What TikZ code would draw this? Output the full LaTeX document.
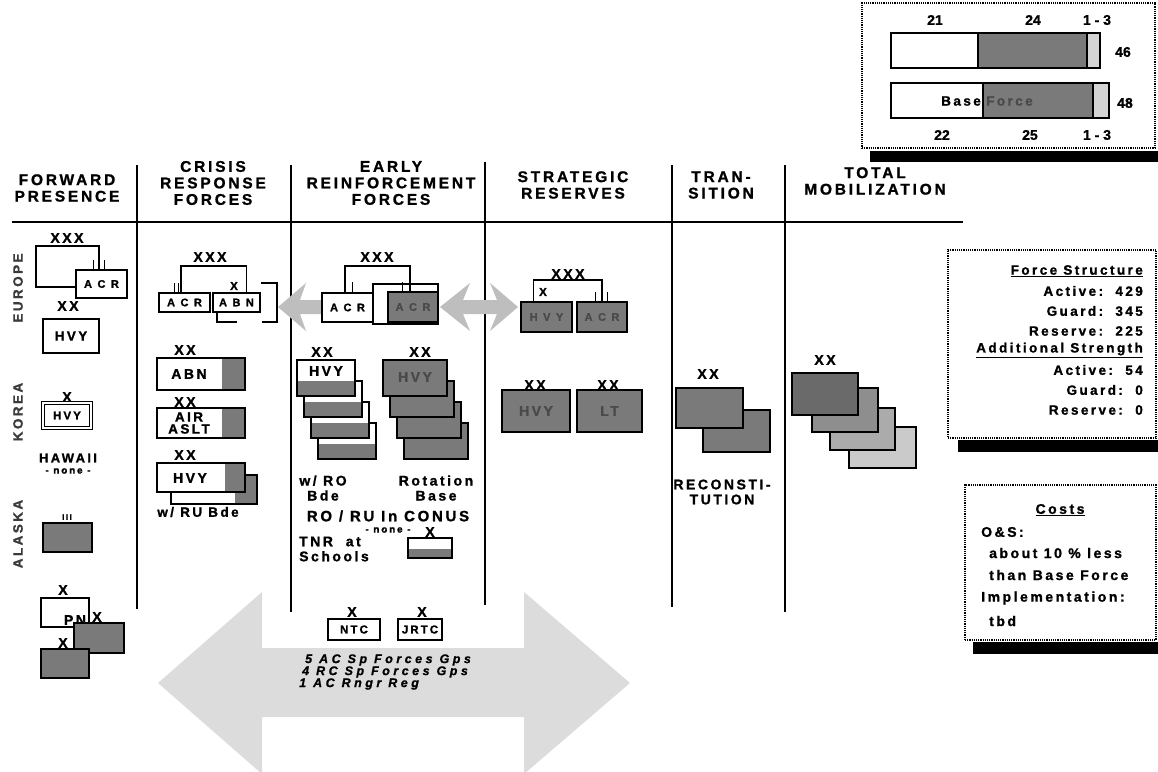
\documentclass[tikz,border=0pt]{standalone}
\usepackage{fontspec}
\setmainfont{Liberation Sans}[LetterSpace=18,BoldFeatures={FakeBold=1.2}]
\newfontfamily\wideF{Liberation Sans}[LetterSpace=50,BoldFeatures={FakeBold=1.2}]
\newfontfamily\itF{Liberation Sans}[LetterSpace=28,BoldItalicFeatures={FakeBold=1}]
\newfontfamily\plainF{Liberation Sans}[BoldFeatures={FakeBold=1.2}]
\usetikzlibrary{calc}
\definecolor{dk}{HTML}{7A7A7A}
\definecolor{dktxt}{HTML}{4A4A4A}
\definecolor{arrg}{HTML}{BEBEBE}
\definecolor{bigg}{HTML}{DCDCDC}
\definecolor{lite}{HTML}{D4D4D4}
\definecolor{gA}{HTML}{6A6A6A}
\definecolor{gB}{HTML}{8E8E8E}
\definecolor{gC}{HTML}{ABABAB}
\definecolor{gD}{HTML}{CACACA}
\definecolor{rowc}{HTML}{3A3A3A}
\newcommand\FntH{\fontsize{15.5}{16.5}\selectfont\bfseries}
\newcommand\FntL{\fontsize{14}{15}\selectfont\bfseries}
\newcommand\FntM{\fontsize{13.5}{13.5}\selectfont\bfseries}
\newcommand\FntS{\wideF\fontsize{11}{11}\selectfont\bfseries}
\newcommand\FntN{\fontsize{11.5}{12}\selectfont\bfseries}
\newcommand\FntT{\fontsize{10}{10}\selectfont\bfseries}
\newcommand\FntI{\itF\fontsize{12.5}{12.5}\selectfont\bfseries\itshape}
\newcommand\FntB{\fontsize{13.5}{15}\selectfont\bfseries}
\newcommand\FntC{\fontsize{14}{15}\selectfont\bfseries}
\newcommand\FntP{\plainF\fontsize{14}{15}\selectfont\bfseries}
\begin{document}
\begin{tikzpicture}[x=1pt,y=-1pt,
  sz/.style 2 args={minimum width=#1,minimum height=#2},
  wbox/.style={draw,line width=1.8pt,fill=white,inner sep=0},
  dbox/.style={draw,line width=1.8pt,fill=dk,inner sep=0,text=dktxt},
  rstrip/.style={path picture={\fill[dk] ([xshift=-#1]path picture bounding box.north east) rectangle (path picture bounding box.south east);}},
  lowdark/.style={path picture={\fill[dk] ($(path picture bounding box.south west)!#1!(path picture bounding box.north west)$) rectangle (path picture bounding box.south east);}},
  lbl/.style={font=\FntL,inner sep=0},
  txt/.style={inner sep=0},
  hdr/.style={font=\FntH,align=center,inner sep=0},
  conn/.style={line width=1.6pt},
  tickln/.style={line width=1pt},
  seprule/.style={line width=2pt},
  rowl/.style={font=\fontsize{13.5}{14}\selectfont\bfseries,rotate=90,text=rowc,inner sep=0},
  dotbox/.style={draw,densely dotted,line width=1.2pt,fill=white,inner sep=0},
  shadowbar/.style={fill=black},
  fatarrow/.style={fill=arrg},
]
\useasboundingbox (0,0) rectangle (1158,771);

% big background arrow
\fill[bigg] (158,683) -- (262,592) -- (262,648) -- (524,648) -- (524,592) -- (630,683) -- (524,774) -- (524,717) -- (262,717) -- (262,774) -- cycle;

% headers
\node[hdr] (h1) at (67,188) {FORWARD\\PRESENCE};
\node[hdr] (h2) at (213,183) {CRISIS\\RESPONSE\\FORCES};
\node[hdr] (h3) at (391,183) {EARLY\\REINFORCEMENT\\FORCES};
\node[hdr] (h4) at (573,185) {STRATEGIC\\RESERVES};
\node[hdr] (h5) at (721,185) {TRAN-\\SITION};
\node[hdr] (h6) at (875,181) {TOTAL\\MOBILIZATION};
\draw[seprule] (12,222) -- (963,222);
\draw[seprule] (137,165) -- (137,609);
\draw[seprule] (291,165) -- (291,612);
\draw[seprule] (485,162) -- (485,605);
\draw[seprule] (672,165) -- (672,607);
\draw[seprule] (785,165) -- (785,612);

% row labels
\node[rowl] (eu) at (18,288) {EUROPE};
\node[rowl] (ko) at (18,412) {KOREA};
\node[rowl] (ak) at (18,534) {ALASKA};
\node[txt,font=\fontsize{13}{14}\selectfont\bfseries] (hi) at (68,458) {HAWAII};
\node[txt,font=\FntT] (hin) at (68,471) {- none -};

% ---- Forward presence
\node[lbl] (fpx3) at (67,238) {XXX};
\node[wbox,sz={63}{41}] (fpxxx) at (67.5,266.5) {};
\draw[tickln] (93,260) -- (93,270) (104,260) -- (104,270);
\node[wbox,sz={51}{28},font=\FntS] (fpacr) at (101.5,284) {ACR};
\node[lbl] (fpx2) at (68,306) {XX};
\node[wbox,sz={56}{34},font=\FntM] (fphvy) at (71,336) {HVY};
\node[lbl] (krx) at (67,397) {X};
\node[wbox,sz={48}{25},font=\FntN,double=white,double distance=1.5pt,line width=1pt] (krhvy) at (67,415.5) {HVY};
\node[txt,font=\fontsize{8}{9}\selectfont\bfseries] (akiii) at (67,517) {III};
\node[dbox,sz={49}{29}] (akb) at (67.5,537.5) {};
\node[lbl] (pnx) at (63,590) {X};
\node[wbox,sz={48}{29}] (pnb) at (65,612.5) {};
\node[lbl] (pnt) at (75,620) {PN};
\node[lbl] (d2x) at (97,617) {X};
\node[dbox,sz={50}{30}] (d2b) at (99,638) {};
\node[lbl] (d3x) at (63,643) {X};
\node[dbox,sz={48}{29}] (d3b) at (65,663.5) {};

% ---- Crisis response
\node[lbl] (cx3) at (210,257) {XXX};
\draw[conn] (217,312) -- (217,322) -- (237,322);
\draw[conn] (261,283) -- (277,283) -- (277,322) -- (262,322);
\node[wbox,sz={51}{19},font=\FntS] (cacr) at (184.5,302.5) {ACR};
\node[wbox,sz={47}{19},font=\FntS] (cabn) at (236.5,302.5) {ABN};
\draw[conn] ([xshift=-3.5pt]cacr.north) -- ++(0,-26) -| ([xshift=10pt]cabn.north);
\draw[tickln] (174,283) -- (174,293) (178,283) -- (178,293);
\node[txt,font=\FntN] (cxs) at (234,286) {X};
\fill[fatarrow] (278,307) -- (306,283) -- (300,300) -- (322,300) -- (322,314) -- (300,314) -- (306,331) -- cycle;

\node[lbl] (cx2a) at (185,350) {XX};
\node[wbox,sz={88}{32},rstrip=23pt] (cabn2) at (201,374) {};
\node[lbl] (cabn2t) at (189,374) {ABN};
\node[lbl] (cx2b) at (185,402) {XX};
\node[wbox,sz={88}{30},rstrip=23pt] (cair) at (201,423) {};
\node[txt,font=\FntM,align=center] (cairt) at (189,423) {AIR\\[-1.5pt]ASLT};
\node[lbl] (cx2c) at (185,455) {XX};
\node[wbox,sz={86}{29},rstrip=22pt] (chvyb) at (214,489.5) {};
\node[wbox,sz={88}{29},rstrip=20pt] (chvy) at (201,477.5) {};
\node[lbl] (chvyt) at (190,478) {HVY};
\node[txt,font=\FntM] (cru) at (198,512) {w/ RU Bde};

% ---- Early reinforcement
\node[lbl] (ex3) at (377,257) {XXX};
\node[wbox,sz={65}{40}] (eback) at (405.5,304) {};
\node[dbox,sz={50}{30},font=\FntS] (eacrd) at (413,307) {ACR};
\fill[fatarrow] (440,307) -- (470,283) -- (463,300) -- (497,300) -- (490,283) -- (518,307) -- (490,331) -- (497,314) -- (463,314) -- (470,331) -- cycle;
\node[wbox,sz={51}{29},font=\FntS] (eacr) at (347.5,307.5) {ACR};
\draw[conn] ([xshift=-2.5pt]eacr.north) -- ++(0,-26) -| ([xshift=-3pt]eacrd.north);
\draw[tickln] (352,282) -- (352,293) (402,282) -- (402,292);

\node[lbl] (ex2a) at (322,352) {XX};
\foreach \i in {3,2,1,0} {
  \node[wbox,sz={58}{36},lowdark=0.42] (ro\i) at ({326+7*\i},{378+21*\i}) {};
}
\node[lbl] (rot) at (326,371) {HVY};
\node[lbl] (ex2b) at (420,352) {XX};
\foreach \i in {3,2,1,0} {
  \node[dbox,sz={64}{36}] (rb\i) at ({415+7*\i},{378+21*\i}) {};
}
\node[lbl,text=dktxt] (rbt) at (415,377) {HVY};
\node[txt,font=\FntL,align=center] (rolbl) at (323,488) {w/ RO\\Bde};
\node[txt,font=\FntL,align=center] (rblbl) at (436,488) {Rotation\\Base};
\node[txt,font=\fontsize{15}{15}\selectfont\bfseries] (conus) at (388,516) {RO / RU In CONUS};
\node[txt,font=\FntT] (conusn) at (388,530) {- none -};
\node[txt,font=\FntL,align=left,anchor=west] (tnr) at (299,549) {TNR \ at\\Schools};
\node[lbl] (tnrx) at (430,532) {X};
\node[wbox,sz={44}{20},lowdark=0.45] (tnrb) at (430,548) {};
\node[lbl] (ntcx) at (352,612) {X};
\node[wbox,sz={52}{21},font=\FntN] (ntc) at (354,629.5) {NTC};
\node[lbl] (jrtcx) at (422,612) {X};
\node[wbox,sz={44}{21},font=\FntN] (jrtc) at (420,629.5) {JRTC};
\node[txt,font=\FntI,anchor=west] (sf1) at (305,660) {5 AC Sp Forces Gps};
\node[txt,font=\FntI,anchor=west] (sf2) at (302,672) {4 RC Sp Forces Gps};
\node[txt,font=\FntI,anchor=west] (sf3) at (299,684) {1 AC Rngr Reg};

% ---- Strategic reserves
\node[lbl] (sx3) at (568,274) {XXX};
\node[dbox,sz={51}{30},font=\FntS] (shvy) at (546.5,317) {HVY};
\node[dbox,sz={50}{30},font=\FntS] (sacr) at (602,317) {ACR};
\draw[conn] ([xshift=-13pt]shvy.north) -- ++(0,-21) -| (sacr.north);
\draw[tickln] (595,292) -- (595,302) (607,292) -- (607,302);
\node[txt,font=\FntN] (sxs) at (543,292) {X};
\node[lbl] (sx2a) at (535,385) {XX};
\node[lbl] (sx2b) at (608,385) {XX};
\node[dbox,sz={68}{42},font=\FntL] (shvy2) at (536,411) {HVY};
\node[dbox,sz={65}{42},font=\FntL] (slt) at (609.5,411) {LT};

% ---- Transition
\node[lbl] (tx2) at (708,374) {XX};
\node[dbox,sz={67}{42}] (t2) at (736.5,431) {};
\node[dbox,sz={67}{40}] (t1) at (709.5,408) {};
\node[txt,font=\FntL,align=center] (recon) at (722,492) {RECONSTI-\\TUTION};

% ---- Total mobilization
\node[lbl] (mx2) at (825,360) {XX};
\node[draw,line width=1.8pt,fill=gD,sz={67}{41}] (m4) at (882.5,447.5) {};
\node[draw,line width=1.8pt,fill=gC,sz={65}{42}] (m3) at (862.5,429) {};
\node[draw,line width=1.8pt,fill=gB,sz={66}{44}] (m2) at (845,410) {};
\node[draw,line width=1.8pt,fill=gA,sz={66}{42}] (m1) at (825,394) {};

% ---- Bar chart
\fill[shadowbar] (870,151) rectangle (1158,162);
\node[dotbox,sz={293}{145}] (chart) at (1008.5,75.5) {};
\fill[dk] (978,33) rectangle (1087,68);
\fill[lite] (1087,33) rectangle (1100,68);
\draw[line width=1.8pt] (891,33) rectangle (1100,68);
\draw[line width=1.4pt] (978,33) -- (978,68) (1087,33) -- (1087,68);
\fill[dk] (983,83) rectangle (1093,118);
\fill[lite] (1093,83) rectangle (1109,118);
\draw[line width=1.8pt] (891,83) rectangle (1109,118);
\draw[line width=1.4pt] (983,83) -- (983,118) (1093,83) -- (1093,118);
\node[txt,font=\FntM,anchor=east] (base) at (981,101) {Base};
\node[txt,font=\FntM,anchor=west,text=dktxt] (force) at (986,101) {Force};
\node[txt,font=\FntP] (n21) at (935,20) {21};
\node[txt,font=\FntP] (n24) at (1033,20) {24};
\node[txt,font=\FntP] (n13a) at (1097,20) {1 - 3};
\node[txt,font=\FntP] (n46) at (1123,52) {46};
\node[txt,font=\FntP] (n48) at (1125,103) {48};
\node[txt,font=\FntP] (n22) at (942,135) {22};
\node[txt,font=\FntP] (n25) at (1030,135) {25};
\node[txt,font=\FntP] (n13b) at (1097,135) {1 - 3};

% ---- Force structure box
\fill[shadowbar] (958,440) rectangle (1158,452);
\node[dotbox,sz={208}{188}] (fsbox) at (1052,344) {};
\node[txt,font=\FntB,anchor=east] (fs1) at (1143,271) {\underline{Force Structure}};
\node[txt,font=\FntB,anchor=east] (fs2) at (1143,291) {Active:\ \ 429};
\node[txt,font=\FntB,anchor=east] (fs3) at (1143,311) {Guard:\ \ 345};
\node[txt,font=\FntB,anchor=east] (fs4) at (1143,331) {Reserve:\ \ 225};
\node[txt,font=\FntB,anchor=east] (fs5) at (1143,350) {\underline{Additional Strength}};
\node[txt,font=\FntB,anchor=east] (fs6) at (1143,370) {Active:\ \ 54};
\node[txt,font=\FntB,anchor=east] (fs7) at (1143,390) {Guard:\ \ 0};
\node[txt,font=\FntB,anchor=east] (fs8) at (1143,410) {Reserve:\ \ 0};

% ---- Costs box
\fill[shadowbar] (973,642) rectangle (1158,654);
\node[dotbox,sz={191}{155}] (cbox) at (1060.5,562.5) {};
\node[txt,font=\FntC] (c1) at (1060,510) {\underline{Costs}};
\node[txt,font=\FntC,anchor=west] (c2) at (981,532) {O\&S:};
\node[txt,font=\FntC,anchor=west] (c3) at (989,553) {about 10 \% less};
\node[txt,font=\FntC,anchor=west] (c4) at (989,575) {than Base Force};
\node[txt,font=\FntC,anchor=west] (c5) at (981,598) {Implementation:};
\node[txt,font=\FntC,anchor=west] (c6) at (989,621) {tbd};
\end{tikzpicture}
\end{document}
